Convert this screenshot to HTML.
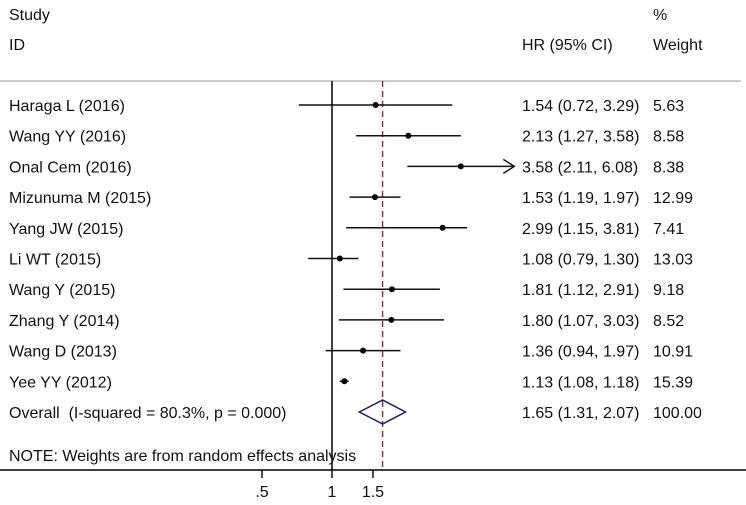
<!DOCTYPE html>
<html><head><meta charset="utf-8"><style>
html,body{margin:0;padding:0;background:#fff;}
svg{display:block;font-family:"Liberation Sans",Arial,sans-serif;font-size:16px;fill:#111;}
</style></head><body>
<svg id="chart" width="746" height="505" viewBox="0 0 746 505">
<text x="9" y="20">Study</text>
<text x="9" y="50">ID</text>
<text x="653" y="20">%</text>
<text x="522" y="50">HR (95% CI)</text>
<text x="653" y="50">Weight</text>
<line x1="0" y1="81" x2="741" y2="81" stroke="#bbb" stroke-width="1.5"/>
<g id="plot"></g>
<text x="9" y="461">NOTE: Weights are from random effects analysis</text>
</svg>
<script>
const studies=["Haraga L (2016)","Wang YY (2016)","Onal Cem (2016)","Mizunuma M (2015)","Yang JW (2015)","Li WT (2015)","Wang Y (2015)","Zhang Y (2014)","Wang D (2013)","Yee YY (2012)"];
const hr=[1.54,2.13,3.58,1.53,2.99,1.08,1.81,1.80,1.36,1.13];
const lower=[0.72,1.27,2.11,1.19,1.15,0.79,1.12,1.07,0.94,1.08];
const upper=[3.29,3.58,6.08,1.97,3.81,1.30,2.91,3.03,1.97,1.18];
const weights=["5.63","8.58","8.38","12.99","7.41","13.03","9.18","8.52","10.91","15.39"];
const overall=[1.65,1.31,2.07];
const overallLabel="Overall\u00a0 (I-squared = 80.3%, p = 0.000)";
const overallWeight="100.00";
const ticks=[0.5,1,1.5];
const tickLabels=[".5","1","1.5"];
const xMax=6.08;
const NS="http://www.w3.org/2000/svg";
const g=document.getElementById('plot');
function x(v){return 332+101*Math.log(v);}
function y(i){return 105+i*30.7;}
function el(t,a){const e=document.createElementNS(NS,t);for(const k in a)e.setAttribute(k,a[k]);g.appendChild(e);return e;}
let e;
e=el('line',{x1:x(1),y1:81,x2:x(1),y2:470,stroke:'#000','stroke-width':1.5});


e=el('line',{x1:x(overall[0]),y1:81,x2:x(overall[0]),y2:470,stroke:'#8b2a2a','stroke-width':1.4,'stroke-dasharray':'6,4'});


e=el('line',{x1:0,y1:470,x2:746,y2:470,stroke:'#000','stroke-width':1.5});


ticks.forEach((t,i)=>{
 e=el('line',{x1:x(t),y1:470,x2:x(t),y2:478,stroke:'#000','stroke-width':1.4});
 
 
 e=el('text',{x:x(t),y:497,'text-anchor':'middle'});e.textContent=tickLabels[i];
 
 
});
studies.forEach((s,i)=>{
 const yy=y(i);
 e=el('text',{x:9,y:yy+6});e.textContent=s;
 
 
 const hi=Math.min(upper[i],xMax);
 e=el('line',{x1:x(lower[i]),y1:yy,x2:x(hi),y2:yy,stroke:'#111','stroke-width':1.5});
 
 
 if(upper[i]>=xMax){
  e=el('polyline',{points:`${x(hi)-11},${yy-7} ${x(hi)},${yy} ${x(hi)-11},${yy+7}`,fill:'none',stroke:'#111','stroke-width':1.4});
  
  
 }
 const cx=x(hr[i]);
 e=el('circle',{cx:cx,cy:yy,r:3,fill:'#000'});
 
 
 e=el('text',{x:522,y:yy+6});e.textContent=`${hr[i].toFixed(2)} (${lower[i].toFixed(2)}, ${upper[i].toFixed(2)})`;
 
 
 e=el('text',{x:653,y:yy+6});e.textContent=weights[i];
 
 
});
const oy=y(10);
e=el('text',{x:9,y:oy+6});e.textContent=overallLabel;


e=el('polygon',{points:`${x(overall[1])},${oy} ${x(overall[0])},${oy-12} ${x(overall[2])},${oy} ${x(overall[0])},${oy+12}`,fill:'none',stroke:'#1a1a7a','stroke-width':1.5});


e=el('text',{x:522,y:oy+6});e.textContent=`${overall[0].toFixed(2)} (${overall[1].toFixed(2)}, ${overall[2].toFixed(2)})`;


e=el('text',{x:653,y:oy+6});e.textContent=overallWeight;


</script>
</body></html>
